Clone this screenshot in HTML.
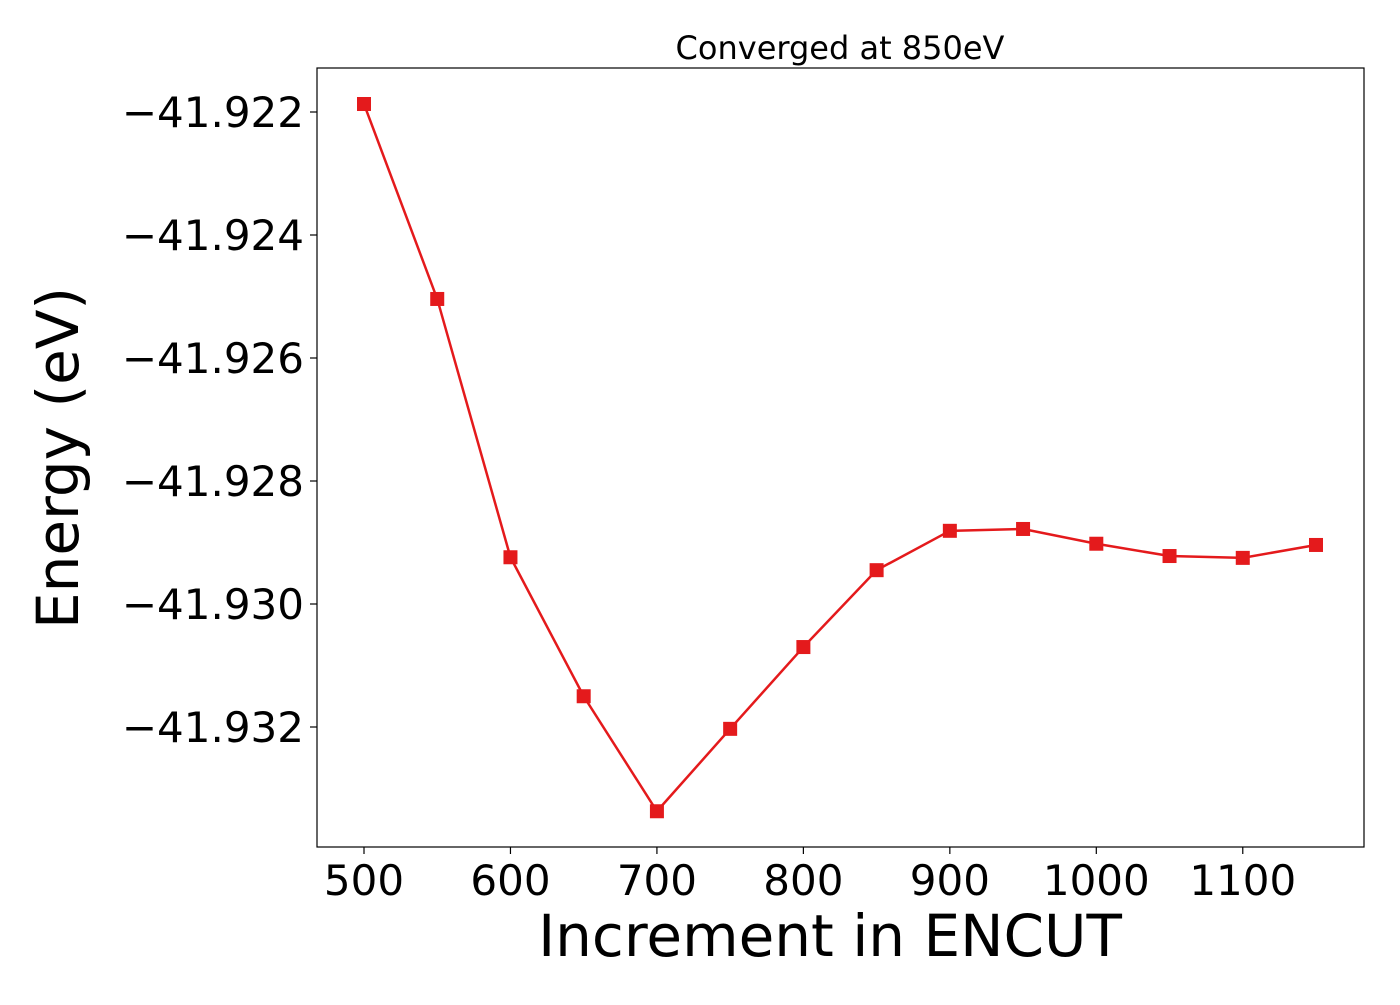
<!DOCTYPE html>
<html><head><meta charset="utf-8"><style>
body{margin:0;background:#fff;}
svg text{font-family:"DejaVu Sans","Liberation Sans",sans-serif;fill:#000;}
</style></head><body>
<svg id="chart" width="1400" height="1000" xmlns="http://www.w3.org/2000/svg">
<rect x="0" y="0" width="1400" height="1000" fill="#fff"/>
<g id="ticks"></g>
<g id="series"></g>
<rect x="317" y="68" width="1047" height="779" fill="none" stroke="#000" stroke-width="1.2"/>
<text x="840" y="59" font-size="32" text-anchor="middle">Converged at 850eV</text>
<text x="830" y="956" font-size="58" text-anchor="middle">Increment in ENCUT</text>
<text transform="translate(78,458) rotate(-90)" font-size="58" text-anchor="middle">Energy (eV)</text>
</svg>
<script>
const encut = [500,550,600,650,700,750,800,850,900,950,1000,1050,1100,1150];
const energy = [-41.92187,-41.92504,-41.92924,-41.93150,-41.93337,-41.93203,-41.93070,-41.92945,-41.92881,-41.92878,-41.92902,-41.92922,-41.92925,-41.92904];
const xTicks = [500,600,700,800,900,1000,1100];
const yTicks = [-41.922,-41.924,-41.926,-41.928,-41.930,-41.932];
const yTickLabels = ["\u221241.922","\u221241.924","\u221241.926","\u221241.928","\u221241.930","\u221241.932"];

const NS="http://www.w3.org/2000/svg";
function xs(v){return 364+(v-500)*(1316-364)/650;}
function ys(v){return 112+(-41.922-v)*61500;}
const tg=document.getElementById('ticks'), sg=document.getElementById('series');
function mk(t,a,p){const e=document.createElementNS(NS,t);for(const k in a)e.setAttribute(k,a[k]);p.appendChild(e);return e;}
xTicks.forEach(v=>{
  const l=mk('line',{x1:xs(v),x2:xs(v),y1:847,y2:854,stroke:'#000','stroke-width':1.2},tg);
  
  
  const t=mk('text',{x:xs(v),y:895,'font-size':42,'text-anchor':'middle'},tg);
  t.textContent=v;
  
  
});
yTicks.forEach((v,i)=>{
  const l=mk('line',{x1:310,x2:317,y1:ys(v),y2:ys(v),stroke:'#000','stroke-width':1.2},tg);
  
  
  const t=mk('text',{x:304,y:ys(v)+15,'font-size':42,'text-anchor':'end'},tg);
  t.textContent=yTickLabels[i];
  
  
});
const pl=mk('polyline',{points:encut.map((x,i)=>xs(x)+','+ys(energy[i])).join(' '),fill:'none',stroke:'#e41a1c','stroke-width':2.5},sg);


encut.forEach((x,i)=>{
  const r=mk('rect',{x:xs(x)-7,y:ys(energy[i])-7,width:14,height:14,fill:'#e41a1c'},sg);
  
  
});
</script>
</body></html>
